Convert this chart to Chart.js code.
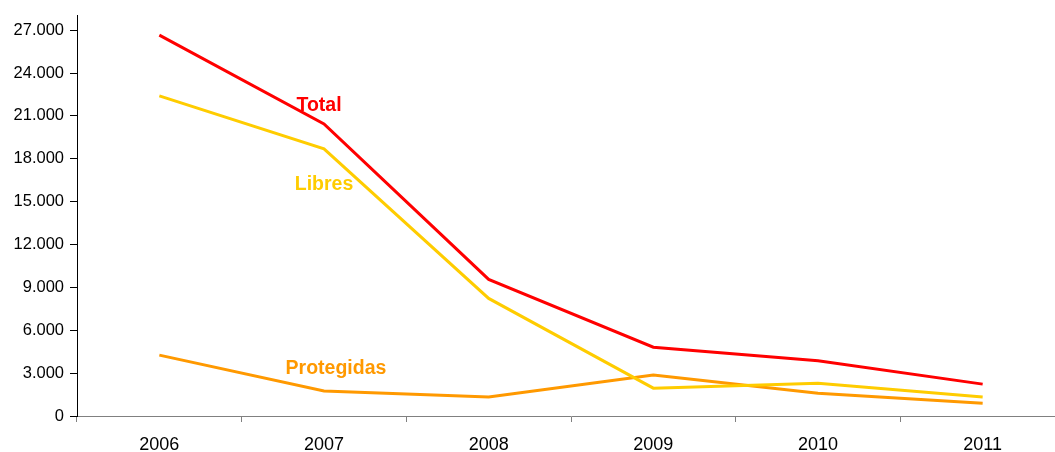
<!DOCTYPE html>
<html><head><meta charset="utf-8">
<script src="https://cdn.jsdelivr.net/npm/chart.js@4/dist/chart.umd.min.js"></script>
<style>html,body{margin:0;padding:0;background:#fff;overflow:hidden;width:1055px;height:452px}canvas{display:block}</style>
</head><body>
<canvas id="c" width="1066" height="452" style="width:1066px;height:452px"></canvas>
<script>
const years = ['2006','2007','2008','2009','2010','2011'];
const total = [26650, 20440, 9560, 4815, 3870, 2230];
const libres = [22400, 18700, 8230, 1950, 2300, 1330];
const protegidas = [4260, 1750, 1330, 2860, 1600, 900];
const yTicks = [0,3000,6000,9000,12000,15000,18000,21000,24000,27000];
const seriesNames = ['Total','Libres','Protegidas'];
const colors = ['#FF0000','#FFCC00','#FF9900'];
// label anchors: [category index, value, dx]
const labelAnchors = [[1, 21700, -5], [1, 16200, 0], [1, 3290, 12]];

const fmt = v => String(v).replace(/\B(?=(\d{3})+(?!\d))/g, '.');

const labelPlugin = {
  id: 'seriesLabels',
  afterDatasetsDraw(chart) {
    const {ctx, scales:{x, y}} = chart;
    ctx.save();
    ctx.font = 'bold 19.5px "Liberation Sans", Arial, sans-serif';
    ctx.textAlign = 'center';
    ctx.textBaseline = 'middle';
    seriesNames.forEach((n, i) => {
      const [ci, v, dx] = labelAnchors[i];
      ctx.fillStyle = colors[i];
      ctx.fillText(n, x.getPixelForValue(ci) + dx, y.getPixelForValue(v));
    });
    ctx.restore();
  }
};

new Chart(document.getElementById('c'), {
  type: 'line',
  data: {
    labels: years,
    datasets: [
      {label: seriesNames[0], data: total, borderColor: colors[0]},
      {label: seriesNames[1], data: libres, borderColor: colors[1]},
      {label: seriesNames[2], data: protegidas, borderColor: colors[2]}
    ].map(d => Object.assign(d, {borderWidth: 3, pointRadius: 0, tension: 0, fill: false}))
  },
  options: {
    responsive: false,
    animation: false,
    layout: {padding: {top: 15, right: 1, left: 0, bottom: 0}},
    plugins: {legend: {display: false}, tooltip: {enabled: false}},
    scales: {
      x: {
        offset: true,
        grid: {offset: true, drawOnChartArea: false, drawTicks: true, tickLength: 6, color: '#808080'},
        border: {color: '#808080', width: 1},
        ticks: {color: '#000', font: {family: '"Liberation Sans", Arial, sans-serif', size: 18}, padding: 12, maxRotation: 0},
        afterFit(s) { s.height = 36; }
      },
      y: {
        min: 0, max: 28000,
        afterBuildTicks(s) { s.ticks = yTicks.map(v => ({value: v})); },
        grid: {drawOnChartArea: false, drawTicks: true, tickLength: 7, color: '#000'},
        border: {color: '#000', width: 1},
        ticks: {color: '#000', font: {family: '"Liberation Sans", Arial, sans-serif', size: 16.5}, padding: 6, callback: v => fmt(v)},
        afterFit(s) { s.width = 77; }
      }
    }
  },
  plugins: [labelPlugin]
});
</script>
</body></html>
